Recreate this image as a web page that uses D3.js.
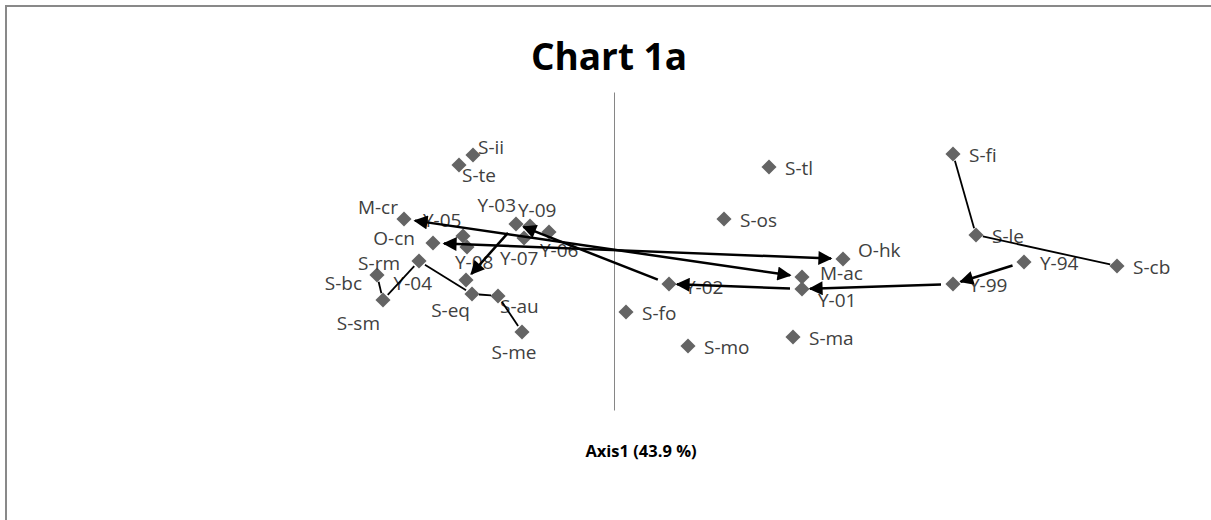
<!DOCTYPE html>
<html>
<head>
<meta charset="utf-8">
<script src="https://cdn.jsdelivr.net/npm/d3@7"></script>
<style>
  html, body { margin: 0; padding: 0; background: #fff; }
  svg { display: block; }
</style>
</head>
<body>
<svg id="chart" width="1211" height="520"></svg>
<script>
// ---- data (Axis1 / Axis2 coordinates) ----
const names = ["S-ii","S-te","M-cr","O-cn","Y-05","Y-08","Y-03","Y-09","Y-06","Y-07",
  "S-rm","Y-04","S-eq","S-au","S-me","S-bc","S-sm","S-tl","S-os","O-hk","M-ac","Y-01",
  "Y-02","S-fo","S-mo","S-ma","S-fi","S-le","Y-94","S-cb","Y-99"];
const axis1 = [-0.705,-0.775,-1.05,-0.905,-0.755,-0.735,-0.49,-0.42,-0.325,-0.45,
  -0.975,-0.74,-0.71,-0.58,-0.46,-1.185,-1.155,0.775,0.55,1.145,0.94,0.94,
  0.275,0.06,0.37,0.895,1.695,1.81,2.05,2.515,1.695];
const axis2 = [0.604,0.541,0.201,0.050,0.094,0.025,0.170,0.157,0.119,0.082,
  -0.063,-0.182,-0.270,-0.283,-0.509,-0.151,-0.308,0.528,0.201,-0.050,-0.164,-0.239,
  -0.208,-0.384,-0.597,-0.541,0.610,0.101,-0.069,-0.094,-0.208];
// trajectory arrows (from, to)
const arrows = [["Y-94","Y-99"],["Y-99","Y-01"],["Y-01","Y-02"],["Y-02","Y-03"],["Y-03","Y-04"]];
// double-headed comparison arrows
const doubleArrows = [["M-cr","M-ac"],["O-cn","O-hk"]];
// plain connecting lines
const links = [["S-fi","S-le"],["S-le","S-cb"],["S-bc","S-sm"],["S-sm","S-rm"],
  ["S-rm","S-eq"],["S-eq","S-au"],["S-au","S-me"]];
const title = "Chart 1a";
const xTitle = "Axis1 (43.9 %)";

// ---- layout (label placement, not data) ----
const labelPlace = {
  "S-ii":[5,-8,"start"], "S-te":[3,10,"start"], "M-cr":[-6,-12,"end"], "O-cn":[-18,-5,"end"],
  "Y-05":[-40,-16,"start"], "Y-08":[-12,15,"start"], "Y-07":[-24,20,"start"],
  "Y-03":[0,-19,"end"], "Y-09":[-12,-16,"start"], "Y-06":[-9,18,"start"],
  "S-rm":[-19,2,"end"], "Y-04":[-34,3,"end"], "S-eq":[-2,16,"end"], "S-au":[2,10,"start"],
  "S-me":[-8,20,"middle"], "S-bc":[-15,8,"end"], "S-sm":[-3,23,"end"],
  "O-hk":[15,-9,"start"], "M-ac":[18,-4,"start"], "Y-01":[16,11,"start"], "Y-02":[16,3,"start"]
};

const W = 1211, H = 520;
const FONT = "'Open Sans', 'Noto Sans', sans-serif";
const svg = d3.select("#chart");
const x = d3.scaleLinear().domain([-1.5, 2.75]).range([314, 1164]);
const y = d3.scaleLinear().domain([-1, 1]).range([410, 92]);

// outer border
svg.append("rect").attr("x", 6).attr("y", 6).attr("width", W + 20).attr("height", H + 20)
  .attr("fill", "#fff").attr("stroke", "#898989").attr("stroke-width", 2);

// vertical axis (Axis2) at Axis1 = 0, no ticks
const yAxis = d3.axisLeft(y).tickValues([]).tickSizeOuter(0);
const ya = svg.append("g").attr("transform", `translate(${x(0)},0)`).call(yAxis);
ya.select(".domain").attr("stroke", "#868686").attr("stroke-width", 1);

// title
svg.append("text").attr("x", 609).attr("y", 70).attr("text-anchor", "middle")
  .attr("font-family", FONT).attr("font-weight", "bold")
  .attr("font-size", 37).attr("fill", "#000").text(title);

// axis title
svg.append("text").attr("x", 641).attr("y", 457).attr("text-anchor", "middle")
  .attr("font-family", FONT).attr("font-weight", "bold")
  .attr("font-size", 16.5).attr("fill", "#000").text(xTitle);

const pts = names.map((n, i) => ({ name: n, a1: axis1[i], a2: axis2[i] }));
const byName = {};
pts.forEach(p => byName[p.name] = p);

// markers
svg.append("g").selectAll("path").data(pts).join("path")
  .attr("d", d3.symbol().type(d3.symbolDiamond2).size(145))
  .attr("transform", d => `translate(${x(d.a1)},${y(d.a2)})`)
  .attr("fill", "#646464");

// labels
svg.append("g").selectAll("text").data(pts).join("text")
  .attr("x", d => x(d.a1) + (labelPlace[d.name] ? labelPlace[d.name][0] : 16))
  .attr("y", d => y(d.a2) + (labelPlace[d.name] ? labelPlace[d.name][1] : 1))
  .attr("text-anchor", d => labelPlace[d.name] ? labelPlace[d.name][2] : "start")
  .attr("dominant-baseline", "central")
  .attr("font-family", FONT)
  .attr("font-size", 19).attr("fill", "#404040")
  .text(d => d.name);

// arrowhead markers
const defs = svg.append("defs");
defs.append("marker").attr("id", "ah").attr("viewBox", "0 0 10 10")
  .attr("refX", 9).attr("refY", 5).attr("markerUnits", "userSpaceOnUse")
  .attr("markerWidth", 15).attr("markerHeight", 14).attr("orient", "auto")
  .append("path").attr("d", "M0,0 L10,5 L0,10 Z").attr("fill", "#000");
defs.append("marker").attr("id", "ahs").attr("viewBox", "0 0 10 10")
  .attr("refX", 9).attr("refY", 5).attr("markerUnits", "userSpaceOnUse")
  .attr("markerWidth", 15).attr("markerHeight", 14).attr("orient", "auto-start-reverse")
  .append("path").attr("d", "M0,0 L10,5 L0,10 Z").attr("fill", "#000");

function seg(a, b, t0, t1) {
  const x0 = x(byName[a].a1), y0 = y(byName[a].a2);
  const x1 = x(byName[b].a1), y1 = y(byName[b].a2);
  const L = Math.hypot(x1 - x0, y1 - y0);
  const ux = (x1 - x0) / L, uy = (y1 - y0) / L;
  return [x0 + ux * t0, y0 + uy * t0, x1 - ux * t1, y1 - uy * t1];
}

const lg = svg.append("g");
links.forEach(([a, b]) => {
  const s = seg(a, b, 7, 7);
  lg.append("line").attr("x1", s[0]).attr("y1", s[1]).attr("x2", s[2]).attr("y2", s[3])
    .attr("stroke", "#000").attr("stroke-width", 1.8);
});
arrows.forEach(([a, b]) => {
  const s = seg(a, b, 12, 8);
  lg.append("line").attr("x1", s[0]).attr("y1", s[1]).attr("x2", s[2]).attr("y2", s[3])
    .attr("stroke", "#000").attr("stroke-width", 2.5).attr("marker-end", "url(#ah)");
});
doubleArrows.forEach(([a, b]) => {
  const s = seg(a, b, 11, 12);
  lg.append("line").attr("x1", s[0]).attr("y1", s[1]).attr("x2", s[2]).attr("y2", s[3])
    .attr("stroke", "#000").attr("stroke-width", 2.5)
    .attr("marker-start", "url(#ahs)").attr("marker-end", "url(#ah)");
});
</script>
</body>
</html>
